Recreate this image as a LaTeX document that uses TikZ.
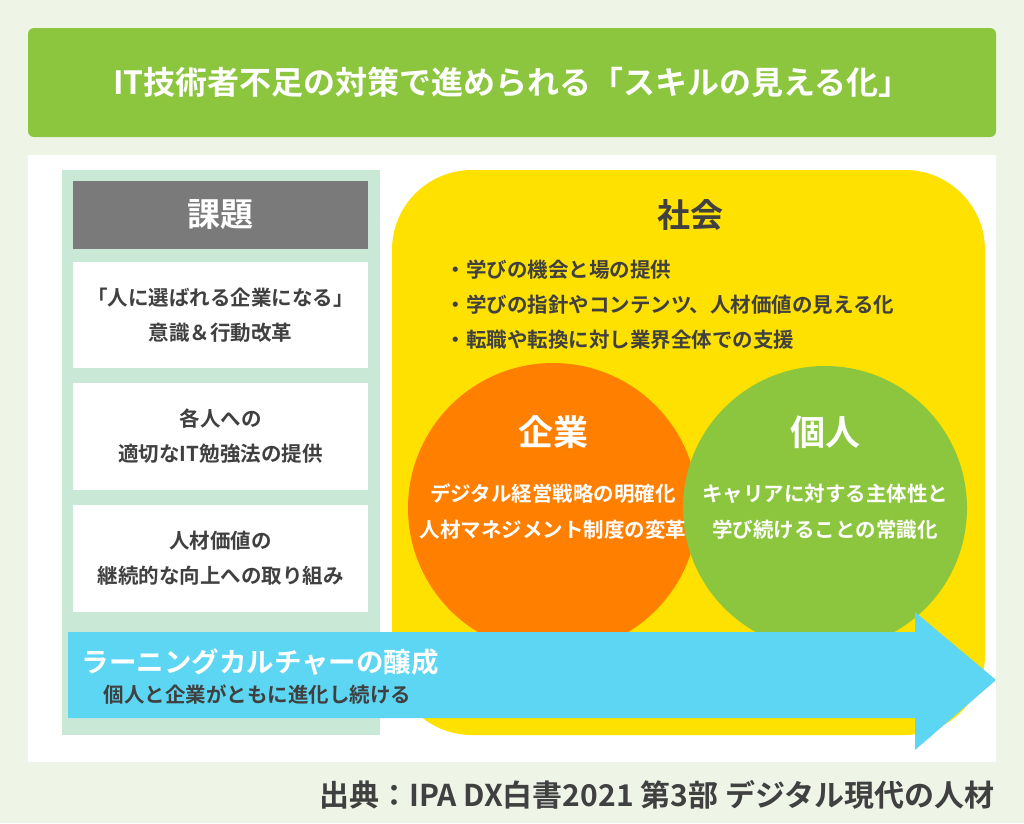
\documentclass[tikz,border=0pt]{standalone}
\usepackage{fontspec}
\setmainfont{Noto Sans CJK JP}[BoldFont={* Bold}]
\usetikzlibrary{positioning}
\definecolor{bg}{HTML}{EEF4E6}
\definecolor{tgreen}{HTML}{8CC63F}
\definecolor{lcol}{HTML}{C9E8D6}
\definecolor{hgray}{HTML}{7A7A7A}
\definecolor{ylw}{HTML}{FFE100}
\definecolor{org}{HTML}{FF7F00}
\definecolor{blu}{HTML}{5CD6F2}
\definecolor{txt}{HTML}{404040}
\tikzset{
 wbox/.style={fill=white,draw=none,minimum width=295pt,align=center,font=\fontsize{20.5}{35}\selectfont\bfseries,text=txt},
 wt/.style={text=white,font=\bfseries,align=center},
 bul/.style={anchor=west,text=txt,font=\fontsize{20.5}{24}\selectfont\bfseries},
}
\begin{document}
\begin{tikzpicture}[x=1pt,y=-1pt]
\fill[bg] (0,0) rectangle (1024,823);
\useasboundingbox (0,0) rectangle (1024,823);
\fill[tgreen,rounded corners=6pt] (28,28) rectangle (996,137);
\node[wt,font=\fontsize{32}{36}\selectfont\bfseries] (title) at (512,82) {IT技術者不足の対策で進められる「スキルの見える化」};
\fill[white] (28,155) rectangle (996,762);
\fill[lcol] (62,170) rectangle (380,735);
\fill[hgray] (73,181) rectangle (368,249);
\node[wt,font=\fontsize{33}{36}\selectfont\bfseries] (kadai) at (220.5,215) {課題};
\node[wbox,minimum height=106pt] (b1) at (220.5,315) {「人に選ばれる企業になる」\\意識＆行動改革};
\node[wbox,minimum height=107pt] (b2) at (220.5,436.5) {各人への\\適切なIT勉強法の提供};
\node[wbox,minimum height=107pt] (b3) at (220.5,558.5) {人材価値の\\継続的な向上への取り組み};
\fill[ylw,rounded corners=80pt] (392,170) rectangle (985,735);
\node[text=txt,font=\fontsize{33}{36}\selectfont\bfseries] (shakai) at (690,215) {社会};
\node[bul] (s1) at (442,270) {・学びの機会と場の提供};
\node[bul] (s2) at (442,305) {・学びの指針やコンテンツ、人材価値の見える化};
\node[bul] (s3) at (442,340) {・転職や転換に対し業界全体での支援};
\fill[org] (553,508) circle (145);
\fill[tgreen] (825,508) circle (142);
\node[wt,font=\fontsize{35}{38}\selectfont\bfseries] (kigyo) at (553,432) {企業};
\node[wt,font=\fontsize{20.5}{36}\selectfont\bfseries] (kt) at (553,512) {デジタル経営戦略の明確化\\人材マネジメント制度の変革};
\node[wt,font=\fontsize{35}{38}\selectfont\bfseries] (kojin) at (825,432) {個人};
\node[wt,font=\fontsize{20.5}{36}\selectfont\bfseries] (jt) at (825,512) {キャリアに対する主体性と\\学び続けることの常識化};
\fill[blu] (68,632) -- (915,632) -- (915,612) -- (996,680) -- (915,750) -- (915,718) -- (68,718) -- cycle;
\node[wt,anchor=west,font=\fontsize{27.5}{30}\selectfont\bfseries] (lc) at (78,662) {ラーニングカルチャーの醸成};
\node[anchor=west,text=txt,font=\fontsize{20.5}{24}\selectfont\bfseries] (lc2) at (100,695) {個人と企業がともに進化し続ける};
\node[anchor=east,text=txt,font=\fontsize{30}{34}\selectfont\bfseries] (src) at (998,795) {出典：IPA DX白書2021 第3部 デジタル現代の人材};
\end{tikzpicture}
\end{document}
